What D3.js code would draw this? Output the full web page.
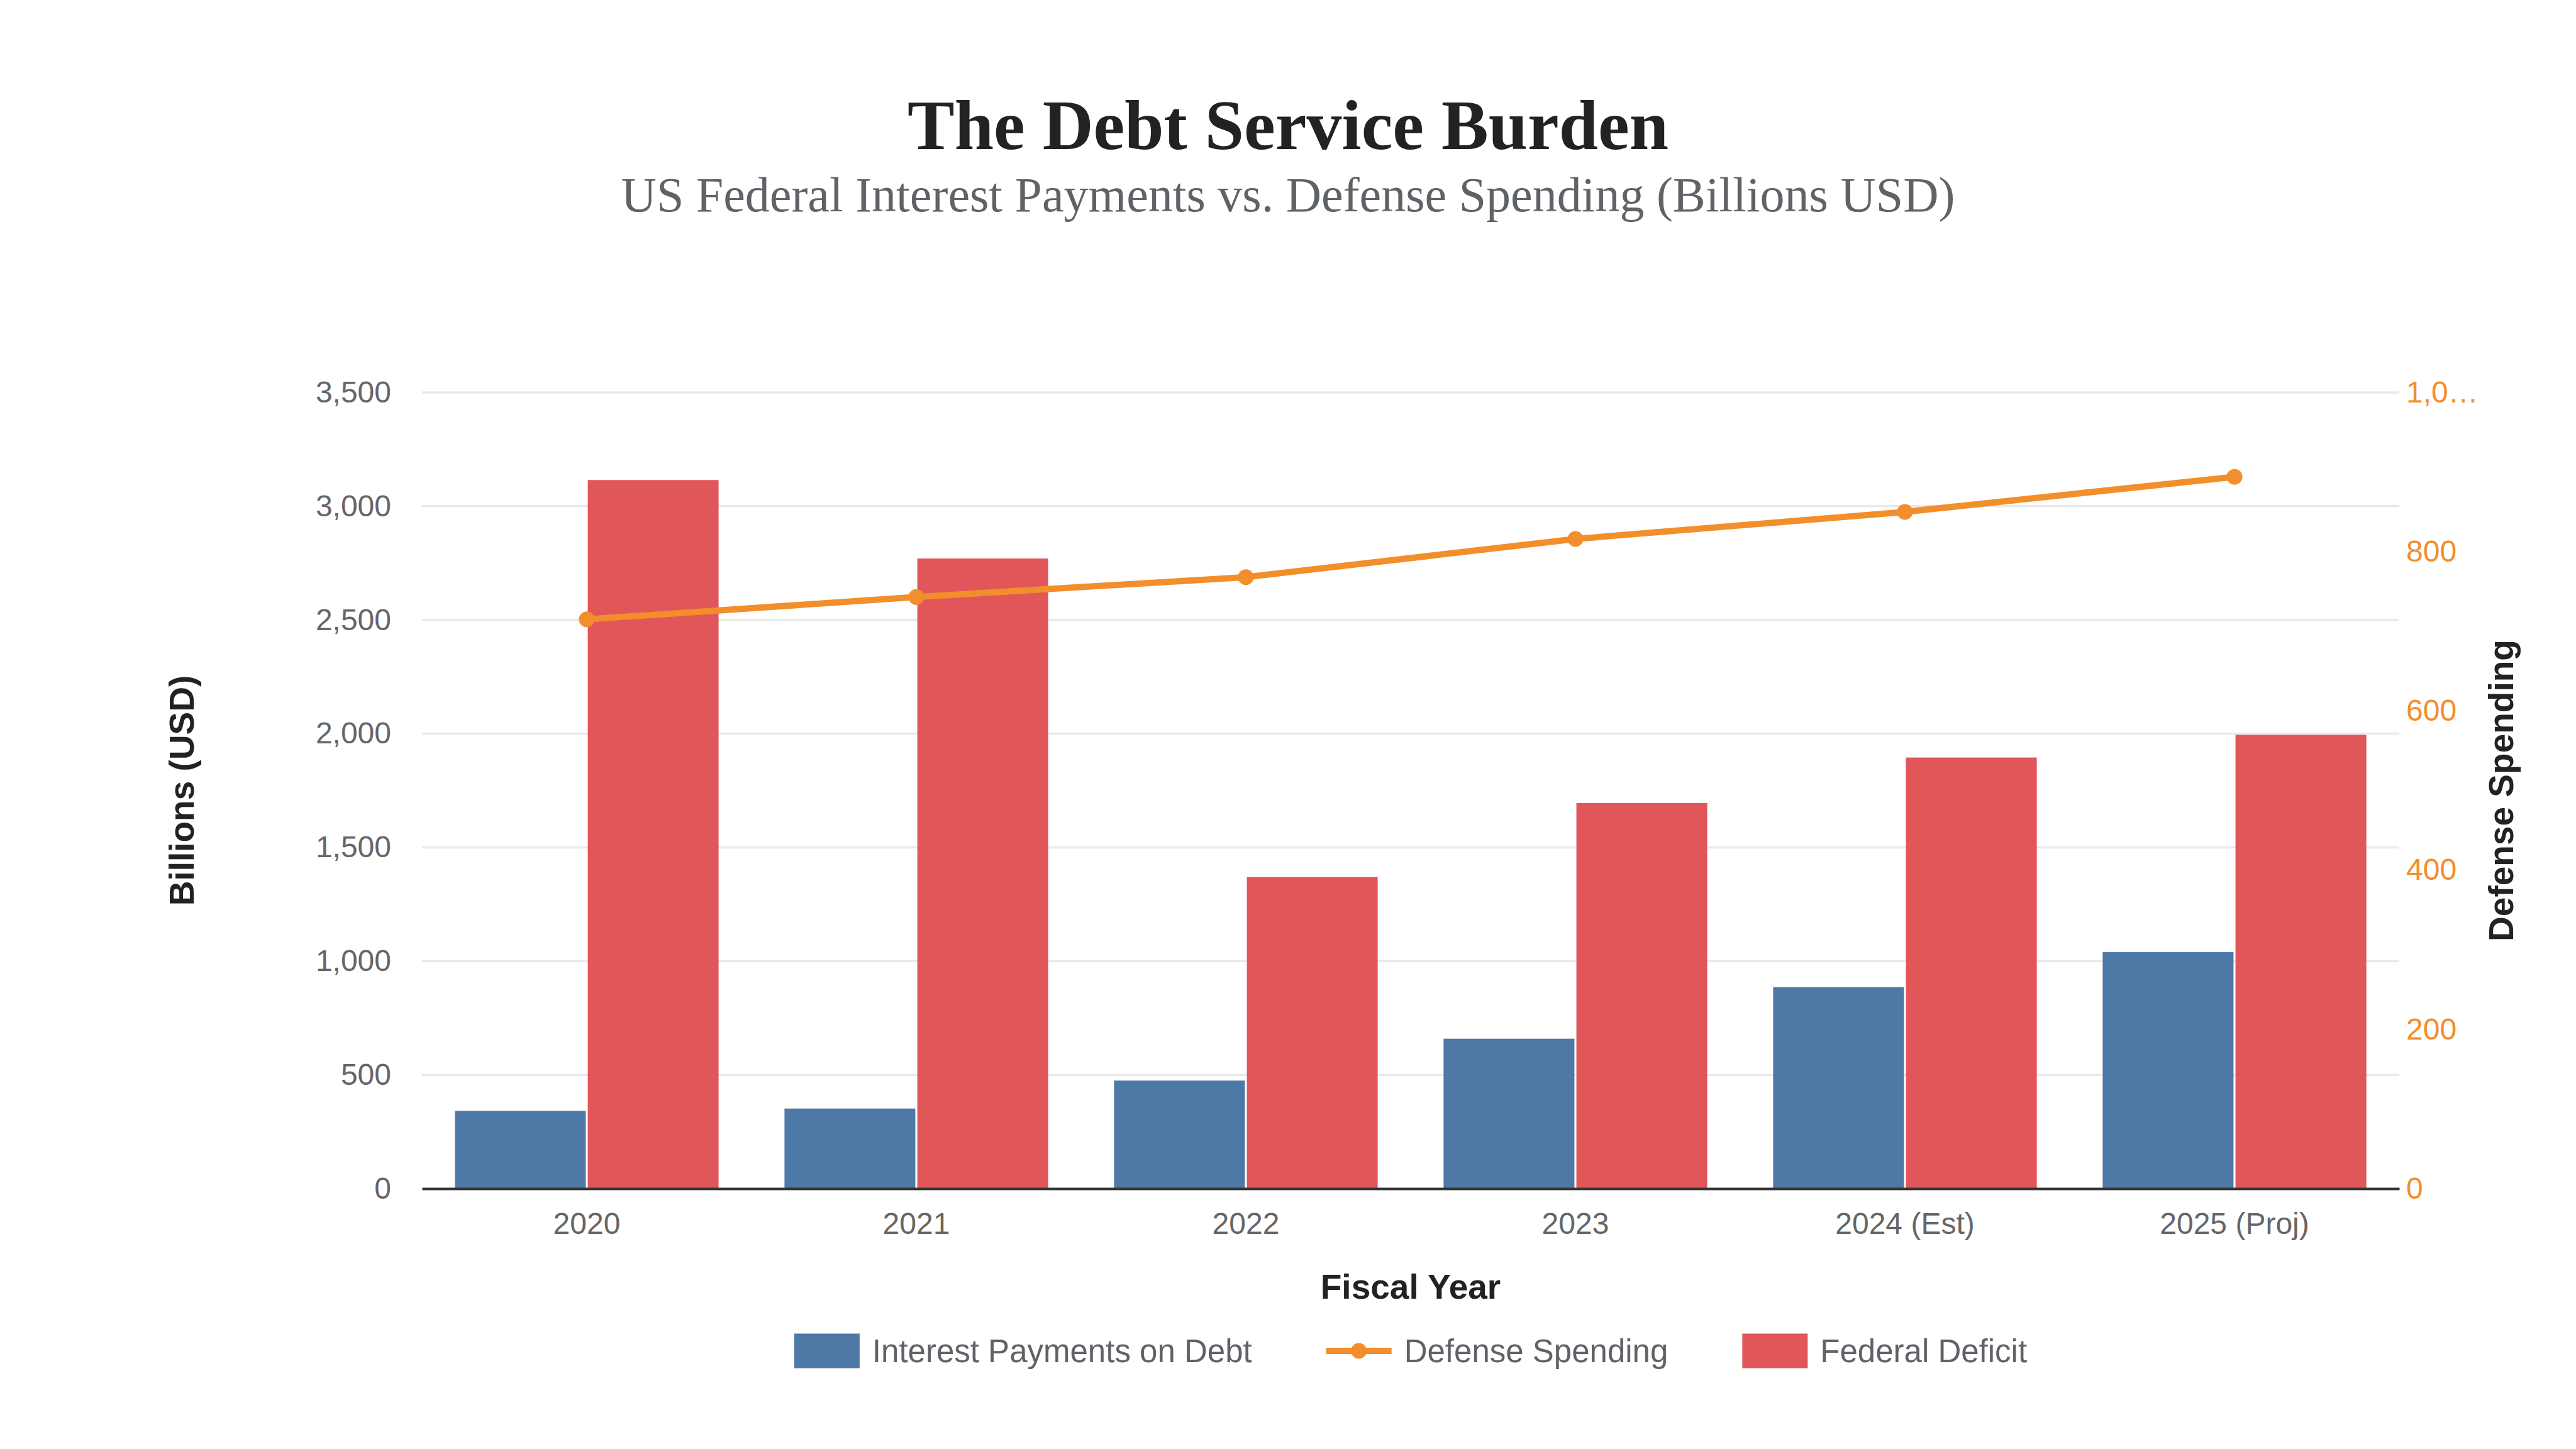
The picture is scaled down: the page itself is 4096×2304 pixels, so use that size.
<!DOCTYPE html>
<html>
<head>
<meta charset="utf-8">
<script src="https://cdn.jsdelivr.net/npm/d3@7"></script>
<style>
  html, body { margin: 0; padding: 0; background: #ffffff; }
  svg { display: block; }
</style>
</head>
<body>
<svg id="chart" width="4096" height="2304"></svg>
<script>
// ---- Data ----
const years = ["2020", "2021", "2022", "2023", "2024 (Est)", "2025 (Proj)"];
const interestPayments = [342, 352, 475, 659, 886, 1040];
const federalDeficit = [3115, 2770, 1370, 1695, 1895, 1995];
const defenseSpending = [715, 743, 768, 816, 850, 894];
const leftTicks = [0, 500, 1000, 1500, 2000, 2500, 3000, 3500];
const rightTicks = [0, 200, 400, 600, 800, 1000];
const rightTickLabels = ["0", "200", "400", "600", "800", "1,0…"];
const seriesNames = ["Interest Payments on Debt", "Defense Spending", "Federal Deficit"];

const colors = { interest: "#4e79a7", defense: "#f28e2b", deficit: "#e15759" };

const W = 4096, H = 2304;
const margin = { left: 671, right: W - 3815, top: 624, bottom: H - 1890 };
const svg = d3.select("#chart");
const sans = "'Liberation Sans', Arial, Helvetica, sans-serif";
const serif = "'Liberation Serif', 'DejaVu Serif', serif";

const x0 = d3.scaleBand().domain(years)
  .range([margin.left, W - margin.right]).paddingInner(0.2).paddingOuter(0.1);
const x1 = d3.scaleBand().domain(["interest", "deficit"])
  .range([0, x0.bandwidth()]).paddingInner(0.015);
const yL = d3.scaleLinear().domain([0, 3500]).range([H - margin.bottom, margin.top]);
const yR = d3.scaleLinear().domain([0, 1000]).range([H - margin.bottom, margin.top]);
const plotCenterX = (margin.left + W - margin.right) / 2;

// ---- Title ----
svg.append("text").attr("x", W / 2).attr("y", 237)
  .attr("text-anchor", "middle").attr("font-family", serif).attr("font-weight", "bold")
  .attr("font-size", 112).attr("fill", "#222222").text("The Debt Service Burden");
svg.append("text").attr("x", W / 2).attr("y", 336)
  .attr("text-anchor", "middle").attr("font-family", serif)
  .attr("font-size", 78).attr("fill", "#5f6368")
  .text("US Federal Interest Payments vs. Defense Spending (Billions USD)");

// ---- Grid ----
svg.append("g").selectAll("line").data(leftTicks.filter(d => d > 0)).join("line")
  .attr("x1", margin.left).attr("x2", W - margin.right)
  .attr("y1", d => yL(d)).attr("y2", d => yL(d))
  .attr("stroke", "#e8e9ec").attr("stroke-width", 3.5);

// ---- Left axis ----
const gL = svg.append("g").attr("transform", `translate(${margin.left},0)`)
  .call(d3.axisLeft(yL).tickValues(leftTicks).tickFormat(d3.format(",")).tickSize(0).tickPadding(49));
gL.select(".domain").remove();
gL.selectAll("text").attr("font-family", sans).attr("font-size", 48).attr("fill", "#666666");

// ---- Right axis ----
const gR = svg.append("g").attr("transform", `translate(${W - margin.right},0)`)
  .call(d3.axisRight(yR).tickValues(rightTicks).tickFormat((d, i) => rightTickLabels[i]).tickSize(0).tickPadding(11));
gR.select(".domain").remove();
gR.selectAll("text").attr("font-family", sans).attr("font-size", 48).attr("fill", colors.defense);

// ---- Bars ----
const barData = years.map((y, i) => ({ year: y, interest: interestPayments[i], deficit: federalDeficit[i] }));
const groups = svg.append("g").selectAll("g").data(barData).join("g")
  .attr("transform", d => `translate(${x0(d.year)},0)`);
groups.selectAll("rect").data(d => [
  { key: "interest", v: d.interest },
  { key: "deficit", v: d.deficit }
]).join("rect")
  .attr("x", d => x1(d.key)).attr("width", x1.bandwidth())
  .attr("y", d => yL(d.v)).attr("height", d => yL(0) - yL(d.v))
  .attr("fill", d => colors[d.key]);

// ---- X axis ----
const gX = svg.append("g").attr("transform", `translate(0,${H - margin.bottom})`)
  .call(d3.axisBottom(x0).tickSize(0).tickPadding(38));
gX.select(".domain").attr("stroke", "#333333").attr("stroke-width", 4);
gX.selectAll("text").attr("font-family", sans).attr("font-size", 48).attr("fill", "#666666");

// ---- Line ----
const lineData = years.map((y, i) => ({ year: y, v: defenseSpending[i] }));
const cx = d => x0(d.year) + x0.bandwidth() / 2;
svg.append("path").datum(lineData)
  .attr("d", d3.line().x(cx).y(d => yR(d.v)))
  .attr("fill", "none").attr("stroke", colors.defense).attr("stroke-width", 10)
  .attr("stroke-linejoin", "round");
svg.append("g").selectAll("circle").data(lineData).join("circle")
  .attr("cx", cx).attr("cy", d => yR(d.v)).attr("r", 12.5).attr("fill", colors.defense);

// ---- Axis titles ----
svg.append("text").attr("x", plotCenterX).attr("y", 2065)
  .attr("text-anchor", "middle").attr("font-family", sans).attr("font-weight", "bold")
  .attr("font-size", 55).attr("fill", "#222222").text("Fiscal Year");
svg.append("text").attr("transform", `translate(308,${(yL(0) + yL(3500)) / 2}) rotate(-90)`)
  .attr("text-anchor", "middle").attr("font-family", sans).attr("font-weight", "bold")
  .attr("font-size", 55).attr("fill", "#222222").text("Billions (USD)");
svg.append("text").attr("transform", `translate(3996,${(yR(0) + yR(1000)) / 2}) rotate(-90)`)
  .attr("text-anchor", "middle").attr("font-family", sans).attr("font-weight", "bold")
  .attr("font-size", 55).attr("fill", "#222222").text("Defense Spending");

// ---- Legend ----
const legendY = 2148;
const legend = svg.append("g");
const items = [
  { name: seriesNames[0], type: "rect", color: colors.interest },
  { name: seriesNames[1], type: "line", color: colors.defense },
  { name: seriesNames[2], type: "rect", color: colors.deficit }
];
const swW = 104, swH = 55, gapText = 20, gapItem = 118;
let cursor = 0;
items.forEach(it => {
  const g = legend.append("g").attr("transform", `translate(${cursor},0)`);
  if (it.type === "rect") {
    g.append("rect").attr("x", 0).attr("y", legendY - swH / 2).attr("width", swW).attr("height", swH).attr("fill", it.color);
  } else {
    g.append("line").attr("x1", 0).attr("x2", swW).attr("y1", legendY).attr("y2", legendY)
      .attr("stroke", it.color).attr("stroke-width", 10);
    g.append("circle").attr("cx", swW / 2).attr("cy", legendY).attr("r", 12.5).attr("fill", it.color);
  }
  const t = g.append("text").attr("x", swW + gapText).attr("y", legendY).attr("dy", "0.35em")
    .attr("font-family", sans).attr("font-size", 51).attr("fill", "#5f6368").text(it.name);
  cursor += swW + gapText + t.node().getComputedTextLength() + gapItem;
});
const totalW = cursor - gapItem;
legend.attr("transform", `translate(${plotCenterX - totalW / 2},0)`);
</script>
</body>
</html>
